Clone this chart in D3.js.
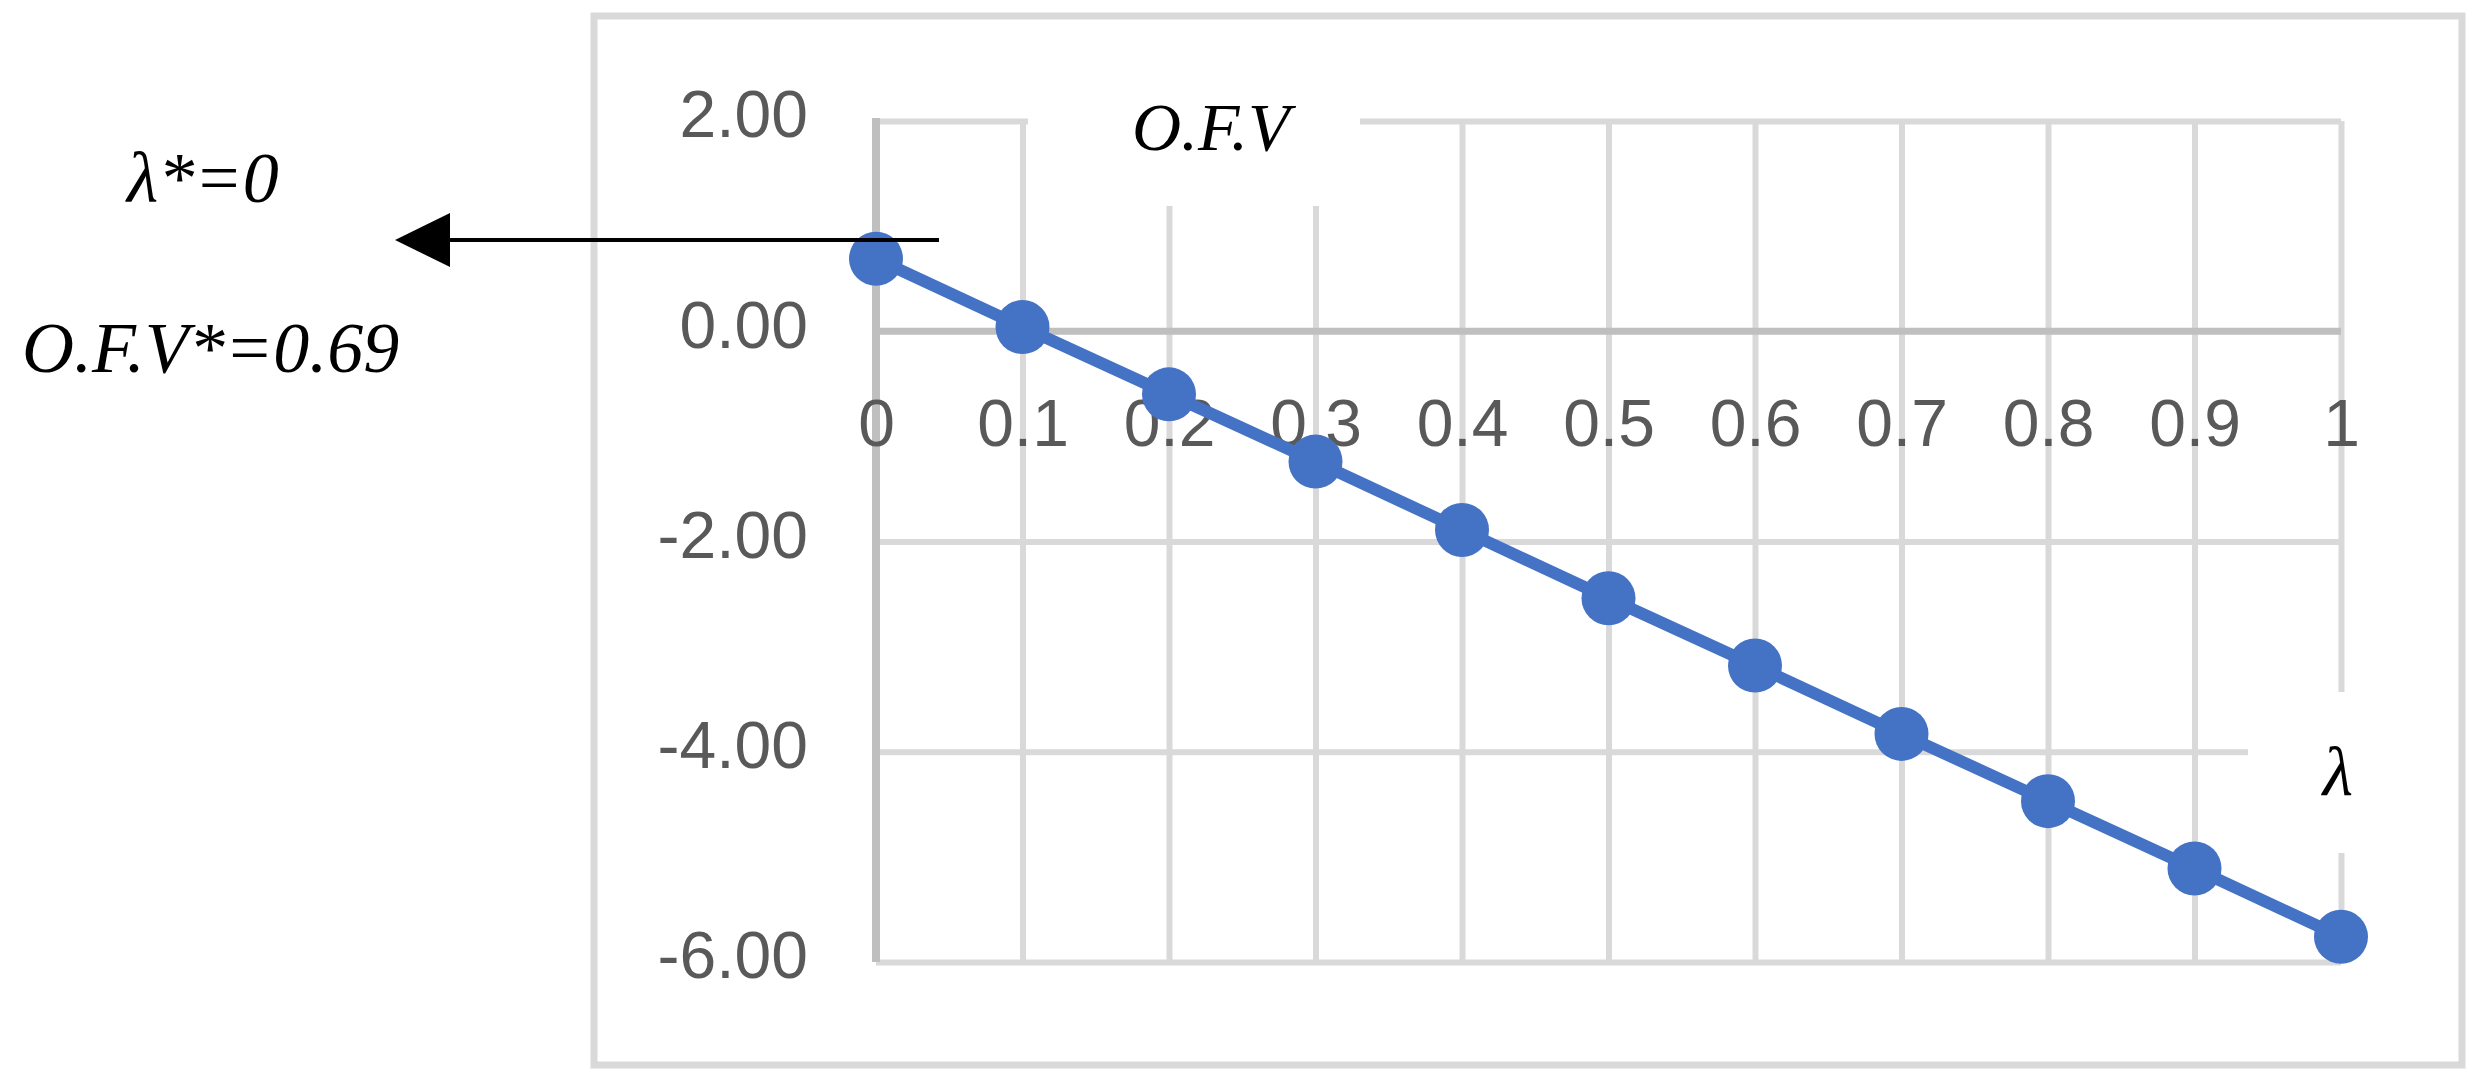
<!DOCTYPE html>
<html>
<head>
<meta charset="utf-8">
<script src="https://cdn.jsdelivr.net/npm/d3@7"></script>
<style>
  html, body { margin: 0; padding: 0; background: #ffffff; }
  svg { display: block; }
</style>
</head>
<body>
<svg id="chart" width="2481" height="1088"></svg>
<script>
// ---- data ----
const categories = ["0", "0.1", "0.2", "0.3", "0.4", "0.5", "0.6", "0.7", "0.8", "0.9", "1"];
const ofvValues = [0.69, 0.04, -0.60, -1.24, -1.89, -2.54, -3.18, -3.83, -4.47, -5.11, -5.76];
const yTicks = [2, 0, -2, -4, -6];
const yTickLabels = ["2.00", "0.00", "-2.00", "-4.00", "-6.00"];
const titleText = "O.F.V";
const xAxisTitle = "λ";
const annotationTop = "λ*=0";
const annotationBottom = "O.F.V*=0.69";

// ---- layout ----
const W = 2481, H = 1088;
const svg = d3.select("#chart");
svg.append("rect").attr("x", 0).attr("y", 0).attr("width", W).attr("height", H).attr("fill", "#ffffff");

const plotLeft = 876, plotRight = 2341, plotTop = 121, plotBottom = 962;
const x = d3.scalePoint().domain(categories).range([plotLeft, plotRight]).padding(0);
const y = d3.scaleLinear().domain([-6, 2]).range([plotBottom, plotTop]);

const gridColor = "#d9d9d9";
const axisColor = "#bfbfbf";
const labelColor = "#595959";
const sansFont = "'Liberation Sans', Arial, sans-serif";
const serifFont = "'Liberation Serif', 'Times New Roman', serif";

// outer chart frame
svg.append("rect")
  .attr("x", 594).attr("y", 16).attr("width", 2462 - 594).attr("height", 1065 - 16)
  .attr("fill", "none").attr("stroke", gridColor).attr("stroke-width", 7);

// horizontal gridlines via axis
const yGrid = svg.append("g")
  .attr("transform", `translate(${plotLeft},0)`)
  .call(d3.axisLeft(y).tickValues(yTicks.filter(d => d !== 0)).tickSize(-(plotRight - plotLeft)).tickFormat(""));
yGrid.select(".domain").remove();
yGrid.selectAll(".tick line").attr("stroke", gridColor).attr("stroke-width", 6);

// vertical gridlines via axis
const xGrid = svg.append("g")
  .attr("transform", `translate(0,${plotBottom})`)
  .call(d3.axisBottom(x).tickValues(categories.slice(1)).tickSize(-(plotBottom - plotTop)).tickFormat(""));
xGrid.select(".domain").remove();
xGrid.selectAll(".tick line").attr("stroke", gridColor).attr("stroke-width", 6);

// vertical axis line at category 0
svg.append("line")
  .attr("x1", x(categories[0])).attr("x2", x(categories[0]))
  .attr("y1", y(2) - 3).attr("y2", y(-6))
  .attr("stroke", axisColor).attr("stroke-width", 8);

// horizontal axis line at 0
svg.append("line")
  .attr("x1", plotLeft).attr("x2", plotRight)
  .attr("y1", y(0)).attr("y2", y(0))
  .attr("stroke", axisColor).attr("stroke-width", 7);

// white text boxes that mask the grid
svg.append("rect").attr("x", 1028).attr("y", 95).attr("width", 1360 - 1028).attr("height", 206 - 95).attr("fill", "#ffffff");
svg.append("rect").attr("x", 2248).attr("y", 692).attr("width", 2420 - 2248).attr("height", 853 - 692).attr("fill", "#ffffff");

// y tick labels via axis
const yAxis = svg.append("g")
  .attr("transform", `translate(${plotLeft},0)`)
  .call(d3.axisLeft(y).tickValues(yTicks).tickSize(0).tickPadding(68)
    .tickFormat((d, i) => yTickLabels[yTicks.indexOf(d)]));
yAxis.select(".domain").remove();
yAxis.selectAll("text")
  .attr("fill", labelColor).attr("font-family", sansFont).attr("font-size", 66)
  .attr("dy", "0.24em");

// x tick labels via axis (crossing at y = 0)
const xAxis = svg.append("g")
  .attr("transform", `translate(0,${y(0)})`)
  .call(d3.axisBottom(x).tickSize(0).tickPadding(68));
xAxis.select(".domain").remove();
xAxis.selectAll("text")
  .attr("fill", labelColor).attr("font-family", sansFont).attr("font-size", 66);

// series line
const pts = categories.map((c, i) => ({ c, v: ofvValues[i] }));
svg.append("path")
  .datum(pts)
  .attr("fill", "none").attr("stroke", "#4472c4").attr("stroke-width", 12).attr("stroke-linejoin", "round")
  .attr("d", d3.line().x(d => x(d.c)).y(d => y(d.v)));

// markers
svg.append("g").selectAll("circle")
  .data(pts).join("circle")
  .attr("cx", d => x(d.c)).attr("cy", d => y(d.v)).attr("r", 27)
  .attr("fill", "#4472c4");

// titles
svg.append("text")
  .attr("x", 1132).attr("y", 150)
  .attr("font-family", serifFont).attr("font-style", "italic").attr("font-size", 68)
  .attr("fill", "#000000").text(titleText);

svg.append("text")
  .attr("x", 2338).attr("y", 795).attr("text-anchor", "middle")
  .attr("font-family", serifFont).attr("font-style", "italic").attr("font-size", 70)
  .attr("fill", "#000000").text(xAxisTitle);

// annotations
svg.append("text")
  .attr("x", 127).attr("y", 202)
  .attr("font-family", serifFont).attr("font-style", "italic").attr("font-size", 72)
  .attr("fill", "#000000").text(annotationTop);

svg.append("text")
  .attr("x", 22).attr("y", 372)
  .attr("font-family", serifFont).attr("font-style", "italic").attr("font-size", 72)
  .attr("fill", "#000000").text(annotationBottom);

// arrow
svg.append("line")
  .attr("x1", 448).attr("x2", 939).attr("y1", 240).attr("y2", 240)
  .attr("stroke", "#000000").attr("stroke-width", 4);
svg.append("path")
  .attr("d", "M395,240 L450,213 L450,267 Z")
  .attr("fill", "#000000");
</script>
</body>
</html>
